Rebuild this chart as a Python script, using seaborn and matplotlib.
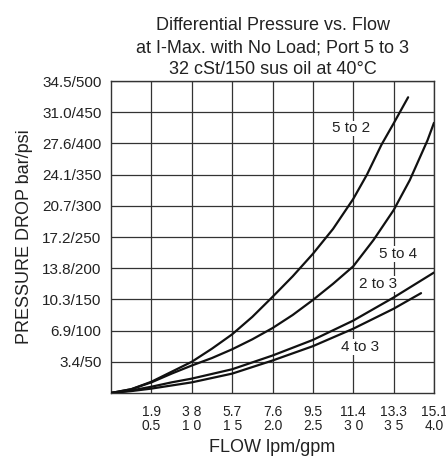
import pandas as pd
import numpy as np
import matplotlib
matplotlib.use("Agg")
import matplotlib.pyplot as plt
import seaborn as sns

# curves: flow in gpm, pressure drop in psi
flow_52 = [0, 0.25, 0.5, 0.75, 1.0, 1.25, 1.5, 1.75, 2.0, 2.25, 2.5, 2.75, 3.0, 3.17, 3.35, 3.5, 3.68]
psi_52 = [0, 6, 18, 34, 50, 71, 94, 122, 154, 187, 223, 263, 311, 350, 398, 432, 474]

flow_54 = [0, 0.25, 0.5, 0.75, 1.0, 1.25, 1.5, 1.75, 2.0, 2.25, 2.5, 2.75, 3.0, 3.25, 3.5, 3.7, 3.92, 4.0]
psi_54 = [0, 6, 17, 31, 44, 56, 70, 86, 104, 125, 149, 175, 203, 245, 293, 341, 405, 433]

flow_23 = [0, 0.25, 0.5, 0.75, 1.0, 1.5, 2.0, 2.5, 3.0, 3.5, 4.0]
psi_23 = [0, 4, 10, 17, 23, 38, 60, 85, 116, 153, 193]

flow_43 = [0, 0.25, 0.5, 0.75, 1.0, 1.5, 2.0, 2.5, 3.0, 3.5, 3.84]
psi_43 = [0, 3, 7, 12, 17, 31, 52, 75, 103, 135, 160]

curve_names = ["5 to 2", "5 to 4", "2 to 3", "4 to 3"]
label_pos = [(2.97, 424), (3.56, 223), (3.31, 175), (3.09, 74)]

x_ticks = [0.5, 1.0, 1.5, 2.0, 2.5, 3.0, 3.5, 4.0]
x_ticklabels = ["1.9\n0.5", "3 8\n1 0", "5.7\n1 5", "7.6\n2.0",
                "9.5\n2.5", "11.4\n3 0", "13.3\n3 5", "15.1\n4.0"]
y_ticks = [50, 100, 150, 200, 250, 300, 350, 400, 450, 500]
y_ticklabels = ["3.4/50", "6.9/100", "10.3/150", "13.8/200", "17.2/250",
                "20.7/300", "24.1/350", "27.6/400", "31.0/450", "34.5/500"]

sns.set_style("white")
plt.rcParams["font.family"] = ["Liberation Sans", "DejaVu Sans"]

fig = plt.figure(figsize=(4.46, 4.58), dpi=100)
ax = fig.add_axes([0.249, 0.142, 0.724, 0.681])

series = [(flow_52, psi_52), (flow_54, psi_54), (flow_23, psi_23), (flow_43, psi_43)]
for (fx, py) in series:
    sns.lineplot(x=fx, y=py, ax=ax, color="#111111", linewidth=1.6,
                 sort=False, estimator=None, zorder=3)

for name, (lx, ly) in zip(curve_names, label_pos):
    ax.text(lx, ly, name, ha="center", va="center", fontsize=11, color="#222222",
            bbox=dict(facecolor="white", edgecolor="none", pad=0.5), zorder=4)

ax.set_xlim(0, 4.0)
ax.set_ylim(0, 500)
ax.set_xticks(x_ticks)
ax.set_xticklabels(x_ticklabels, fontsize=10, color="#222222", linespacing=1.0)
ax.set_yticks(y_ticks)
ax.set_yticklabels(y_ticklabels, fontsize=11, color="#222222")
ax.tick_params(axis="y", length=0, pad=7)
ax.tick_params(axis="x", length=0, pad=9)
ax.grid(True, color="#333333", linewidth=0.9)
for s in ax.spines.values():
    s.set_color("#333333")
    s.set_linewidth(1.0)

ax.set_xlabel("FLOW lpm/gpm", fontsize=13, color="#222222")
ax.xaxis.set_label_coords(0.5, -0.148)
ax.set_ylabel("PRESSURE DROP bar/psi", fontsize=13, color="#222222")
ax.yaxis.set_label_coords(-0.243, 0.5)
ax.set_title("Differential Pressure vs. Flow\nat I-Max. with No Load; Port 5 to 3\n32 cSt/150 sus oil at 40°C",
             fontsize=13, color="#222222", linespacing=1.38, pad=5)

fig.savefig("out.png", dpi=100)
